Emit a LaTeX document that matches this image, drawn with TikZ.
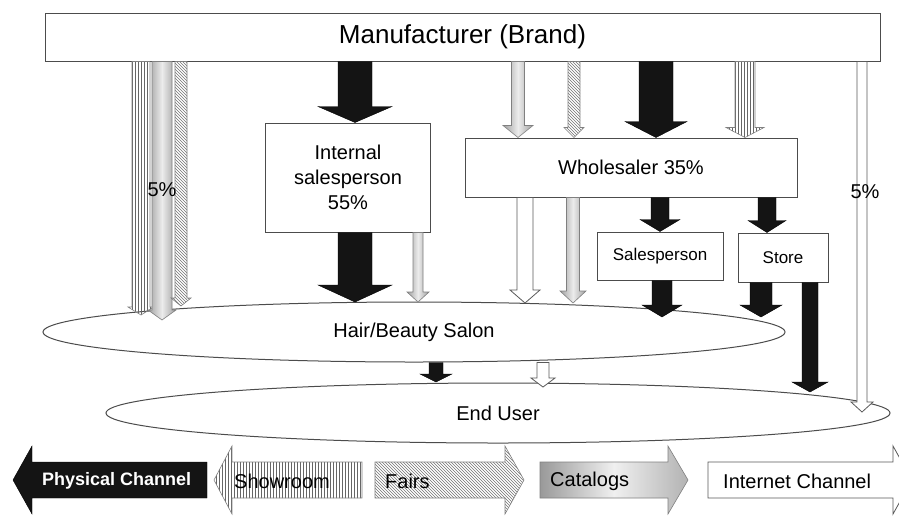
\documentclass[tikz,border=0pt]{standalone}
\usepackage{fontspec}
\setmainfont{Liberation Sans}
\usetikzlibrary{shapes.geometric,patterns,calc}

\tikzset{
  box/.style={draw=black!70, line width=1pt, fill=white, align=center, font=\fontsize{20}{25}\selectfont},
  smallbox/.style={box, font=\fontsize{17}{20}\selectfont},
  oval/.style={ellipse, draw=black!70, line width=1pt, fill=white, inner sep=0pt, font=\fontsize{20}{24}\selectfont},
  blk/.style={fill=black!92, draw=black},
  wht/.style={fill=white, draw=black!65, line width=0.8pt},
  grd/.style={left color=gray!75, right color=gray!75, middle color=gray!15, draw=gray, line width=0.6pt},
  lns/.style={pattern=vertical lines, pattern color=black!60, draw=gray, line width=0.6pt},
  hch/.style={pattern=north west lines, pattern color=black!55, draw=gray, line width=0.6pt},
  legtext/.style={anchor=west, inner sep=0pt, font=\fontsize{20}{24}\selectfont},
}

\newcommand{\fatarrow}[7][]{%
  \path[#1] let \p1=(#3), \p2=(#4), \p3=(#2,0) in
    (\x3-#5pt,\y1) -- (\x3+#5pt,\y1) -- (\x3+#5pt,\y2+#7pt)
    -- (\x3+#6pt,\y2+#7pt) -- (\x3,\y2) -- (\x3-#6pt,\y2+#7pt)
    -- (\x3-#5pt,\y2+#7pt) -- cycle;}

\newcommand{\legarrow}[5][]{%
  \path[#1] (#2,#5-18) -- (#3,#5-18) -- (#3,#5-34) -- (#4,#5)
    -- (#3,#5+34) -- (#3,#5+18) -- (#2,#5+18) -- cycle;}

\begin{document}
\begin{tikzpicture}[x=1pt, y=-1pt]
    \fill[white] (0,0) rectangle (899,515);
    \useasboundingbox (0,0) rectangle (899,515);

    \node[box, minimum width=835, minimum height=48, font=\fontsize{26}{30}\selectfont] (manu) at (462.5,37) {Manufacturer (Brand)};
    \node[box, minimum width=165, minimum height=109] (isp) at (348,177.5) {Internal\\salesperson\\55\%};
    \node[box, minimum width=332, minimum height=59] (whl) at (631,167.5) {Wholesaler 35\%};
    \node[smallbox, minimum width=126, minimum height=48] (slp) at (660,256) {Salesperson};
    \node[smallbox, minimum width=90, minimum height=49] (sto) at (783,257.5) {Store};
    \node[oval, minimum width=742, minimum height=60] (salon) at (414,332) {Hair/Beauty Salon};
    \node[oval, minimum width=784, minimum height=60] (user) at (498,413) {End User};

    \coordinate (salA) at (141,315);
    \coordinate (salB) at (162,320);
    \coordinate (salC) at (181,306);
    \coordinate (salD) at (355,302);
    \coordinate (salE) at (418,302);
    \coordinate (salF) at (525,303);
    \coordinate (salG) at (573,303);
    \coordinate (salH) at (662,317);
    \coordinate (salI) at (761,317);
    \coordinate (userA) at (436,382);
    \coordinate (userB) at (543,387);
    \coordinate (userC) at (810,392);
    \coordinate (userD) at (862,412);

    \fatarrow[lns]{141}{manu.south}{salA}{9}{13}{8}
    \fatarrow[grd]{162}{manu.south}{salB}{10}{14}{10}
    \fatarrow[hch]{181}{manu.south}{salC}{6}{10}{8}
    \fatarrow[blk]{355}{manu.south}{isp.north}{17}{37}{16}
    \fatarrow[blk]{355}{isp.south}{salD}{17}{37}{17}
    \fatarrow[grd]{418}{isp.south}{salE}{5}{11}{10}
    \fatarrow[grd]{518}{manu.south}{whl.north}{6.5}{15}{12}
    \fatarrow[hch]{574}{manu.south}{whl.north}{6}{10}{10}
    \fatarrow[blk]{656}{manu.south}{whl.north}{17}{31}{16}
    \fatarrow[lns]{745}{manu.south}{whl.north}{10}{19}{10}
    \fatarrow[wht]{525}{whl.south}{salF}{8}{15}{13}
    \fatarrow[grd]{573}{whl.south}{salG}{6.5}{13}{12}
    \fatarrow[blk]{660}{whl.south}{slp.north}{9}{20}{12}
    \fatarrow[blk]{767}{whl.south}{sto.north}{9}{19}{12}
    \fatarrow[blk]{662}{slp.south}{salH}{10}{20}{12}
    \fatarrow[blk]{761}{sto.south}{salI}{11}{21}{12}
    \fatarrow[blk]{810}{sto.south}{userC}{8}{18}{10}
    \fatarrow[wht]{862}{manu.south}{userD}{5}{11}{10}
    \fatarrow[blk]{436}{salon.south}{userA}{7}{16}{8}
    \fatarrow[wht]{543}{salon.south}{userB}{6}{12}{9}

    \node[font=\fontsize{20}{24}\selectfont, inner sep=0pt] (pctl) at (162,190) {5\%};
    \node[font=\fontsize{20}{24}\selectfont, inner sep=0pt] (pctr) at (865,192) {5\%};

    \legarrow[blk]{207}{32}{13}{480}
    \legarrow[lns]{362}{232}{214}{480}
    \legarrow[hch]{375}{505}{524}{480}
    \legarrow[left color=gray!80, right color=gray!60, middle color=gray!12, draw=gray, line width=0.6pt]{540}{668}{688}{480}
    \legarrow[wht]{708}{893}{912}{480}

    \node[legtext, text=white, font=\bfseries\fontsize{18}{22}\selectfont] (phys) at (42,481) {Physical Channel};
    \node[legtext] (show) at (234,481) {Showroom};
    \node[legtext] (fair) at (385,481) {Fairs};
    \node[legtext] (cata) at (550,481) {Catalogs};
    \node[legtext] (inet) at (723,481) {Internet Channel};
\end{tikzpicture}
\end{document}
